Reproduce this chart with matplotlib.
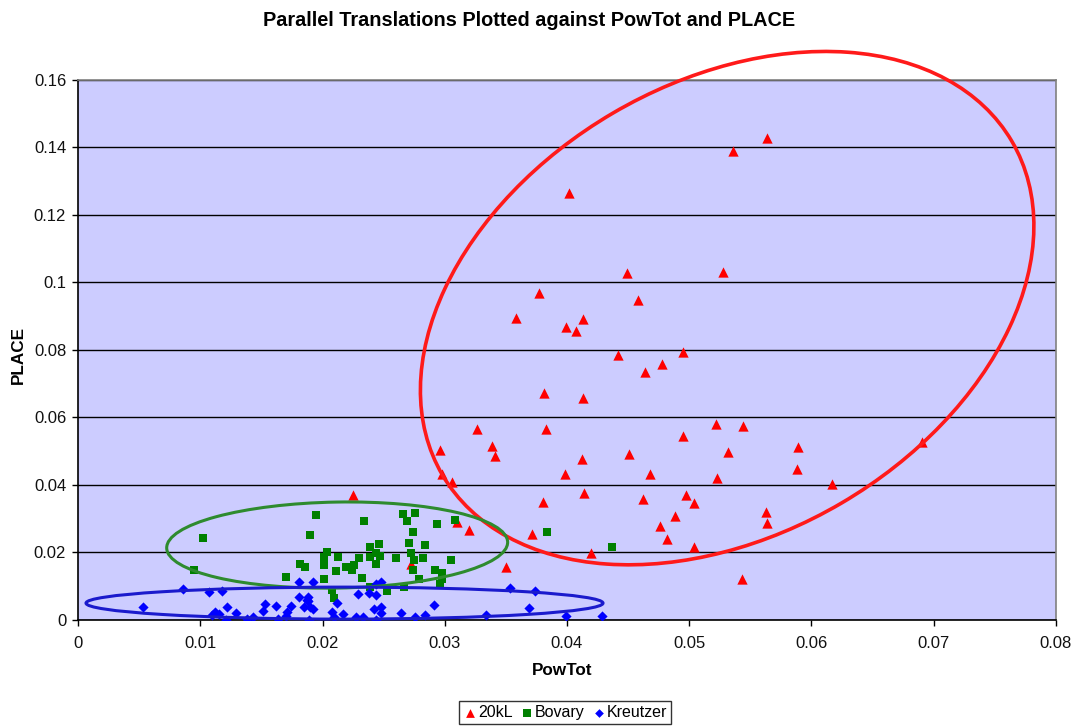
import matplotlib
matplotlib.use('Agg')
import matplotlib.pyplot as plt
import matplotlib.transforms as mtransforms
from matplotlib.patches import Ellipse

plt.rcParams['font.family'] = ['Liberation Sans', 'DejaVu Sans']

# 20kL (red triangles)
kl_x = [0.0564, 0.0536, 0.0402, 0.0449, 0.0528, 0.0458, 0.0377, 0.0358, 0.0413, 0.0399,
        0.0407, 0.0442, 0.0495, 0.0478, 0.0464, 0.0381, 0.0413, 0.0326, 0.0383, 0.0522,
        0.0544, 0.0296, 0.0339, 0.0341, 0.0412, 0.0451, 0.0495, 0.0532, 0.0589, 0.0588,
        0.0298, 0.0306, 0.0398, 0.0468, 0.0523, 0.0617, 0.0380, 0.0414, 0.0462, 0.0497,
        0.0504, 0.0563, 0.0564, 0.0488, 0.0476, 0.0482, 0.0504, 0.0310, 0.0320, 0.0371,
        0.0420, 0.0350, 0.0543, 0.0225, 0.0272, 0.0690]
kl_y = [0.1429, 0.1390, 0.1264, 0.1029, 0.1031, 0.0948, 0.0970, 0.0894, 0.0892, 0.0869,
        0.0855, 0.0785, 0.0793, 0.0758, 0.0736, 0.0672, 0.0657, 0.0566, 0.0566, 0.0581,
        0.0574, 0.0503, 0.0516, 0.0487, 0.0477, 0.0491, 0.0545, 0.0498, 0.0513, 0.0448,
        0.0433, 0.0408, 0.0433, 0.0433, 0.0420, 0.0402, 0.0351, 0.0375, 0.0358, 0.0370,
        0.0348, 0.0319, 0.0287, 0.0309, 0.0279, 0.0239, 0.0217, 0.0291, 0.0268, 0.0255,
        0.0198, 0.0157, 0.0121, 0.0370, 0.0165, 0.0527]

# Bovary (green squares)
bov_x = [0.0102, 0.0095, 0.0195, 0.0190, 0.0204, 0.0201, 0.0182, 0.0186, 0.0201, 0.0170,
         0.0201, 0.0234, 0.0266, 0.0276, 0.0269, 0.0294, 0.0308, 0.0384, 0.0274, 0.0271,
         0.0284, 0.0239, 0.0246, 0.0437, 0.0213, 0.0230, 0.0239, 0.0244, 0.0247, 0.0260,
         0.0272, 0.0275, 0.0282, 0.0305, 0.0211, 0.0219, 0.0224, 0.0226, 0.0244, 0.0274,
         0.0292, 0.0298, 0.0232, 0.0279, 0.0298, 0.0296, 0.0208, 0.0239, 0.0253, 0.0267,
         0.0209]
bov_y = [0.0244, 0.0149, 0.0311, 0.0252, 0.0202, 0.0188, 0.0167, 0.0156, 0.0163, 0.0128,
         0.0121, 0.0292, 0.0313, 0.0318, 0.0292, 0.0285, 0.0296, 0.0260, 0.0260, 0.0228,
         0.0221, 0.0217, 0.0224, 0.0217, 0.0188, 0.0185, 0.0187, 0.0198, 0.0190, 0.0185,
         0.0198, 0.0178, 0.0185, 0.0178, 0.0146, 0.0156, 0.0148, 0.0164, 0.0166, 0.0147,
         0.0148, 0.0138, 0.0124, 0.0121, 0.0121, 0.0108, 0.0089, 0.0099, 0.0085, 0.0099,
         0.0064]

# Kreutzer (blue diamonds)
kr_x = [0.0053, 0.0086, 0.0107, 0.0118, 0.0112, 0.0110, 0.0115, 0.0122, 0.0129, 0.0121,
        0.0138, 0.0143, 0.0151, 0.0153, 0.0162, 0.0164, 0.0170, 0.0171, 0.0174, 0.0181,
        0.0181, 0.0192, 0.0187, 0.0188, 0.0185, 0.0190, 0.0192, 0.0189, 0.0188, 0.0212,
        0.0208, 0.0217, 0.0227, 0.0233, 0.0209, 0.0229, 0.0238, 0.0244, 0.0244, 0.0248,
        0.0242, 0.0248, 0.0248, 0.0244, 0.0264, 0.0276, 0.0284, 0.0291, 0.0334, 0.0353,
        0.0374, 0.0369, 0.0399, 0.0429]
kr_y = [0.0039, 0.0092, 0.0082, 0.0086, 0.0024, 0.0015, 0.0018, 0.0039, 0.0022, 0.0000,
        0.0002, 0.0009, 0.0028, 0.0047, 0.0042, 0.0002, 0.0012, 0.0025, 0.0042, 0.0069,
        0.0112, 0.0112, 0.0059, 0.0057, 0.0039, 0.0039, 0.0032, 0.0000, 0.0067, 0.0049,
        0.0025, 0.0018, 0.0009, 0.0010, 0.0010, 0.0076, 0.0079, 0.0074, 0.0107, 0.0113,
        0.0032, 0.0038, 0.0020, 0.0000, 0.0022, 0.0008, 0.0015, 0.0044, 0.0015, 0.0094,
        0.0087, 0.0036, 0.0012, 0.0012]

x_ticks = [0, 0.01, 0.02, 0.03, 0.04, 0.05, 0.06, 0.07, 0.08]
x_labels = ['0', '0.01', '0.02', '0.03', '0.04', '0.05', '0.06', '0.07', '0.08']
y_ticks = [0, 0.02, 0.04, 0.06, 0.08, 0.1, 0.12, 0.14, 0.16]
y_labels = ['0', '0.02', '0.04', '0.06', '0.08', '0.1', '0.12', '0.14', '0.16']

# hand-drawn ellipses: centre in data units, axes in inches, angle in degrees
circles = [
    ((0.0531, 0.0924), 6.60, 4.52, 30.4, '#ff1a1a', 2.6),
    ((0.0212, 0.0222), 3.41, 0.86, 1.0, '#2e8b2e', 2.2),
    ((0.0218, 0.0050), 5.17, 0.32, 0.0, '#1a1acc', 2.2),
]

fig = plt.figure(figsize=(10.76, 7.27), dpi=100)
ax = fig.add_axes([0.0725, 0.1472, 0.9089, 0.7428])
ax.set_facecolor('#ccccff')

ax.scatter(kl_x, kl_y, marker='^', s=55, color='#ff0000', linewidths=0, zorder=3, label='20kL')
ax.scatter(bov_x, bov_y, marker='s', s=36, color='#008000', linewidths=0, zorder=3, label='Bovary')
ax.scatter(kr_x, kr_y, marker='D', s=27, color='#0000ff', linewidths=0, zorder=3, label='Kreutzer')

ax.set_xlim(0, 0.08)
ax.set_ylim(0, 0.16)
ax.set_xticks(x_ticks)
ax.set_xticklabels(x_labels)
ax.set_yticks(y_ticks)
ax.set_yticklabels(y_labels)
ax.tick_params(axis='both', direction='out', length=4.5, width=1, color='black',
               labelsize=12, labelcolor='#111111')
ax.tick_params(axis='x', pad=7)
ax.tick_params(axis='y', pad=4)
ax.yaxis.grid(True, color='black', linewidth=1)
ax.set_axisbelow(True)
for side in ['left', 'bottom']:
    ax.spines[side].set_color('black')
    ax.spines[side].set_linewidth(1.2)
for side in ['top', 'right']:
    ax.spines[side].set_color('#808080')
    ax.spines[side].set_linewidth(1.2)

for (cx, cy), w, h, ang, col, lw in circles:
    tr = fig.dpi_scale_trans + mtransforms.ScaledTranslation(cx, cy, ax.transData)
    e = Ellipse((0, 0), w, h, angle=ang, transform=tr, fill=False,
                edgecolor=col, linewidth=lw, zorder=4, clip_on=False)
    fig.add_artist(e)

fig.text(0.492, 0.972, 'Parallel Translations Plotted against PowTot and PLACE',
         ha='center', va='center', fontsize=14.3, fontweight='bold')
fig.text(0.522, 0.078, 'PowTot', ha='center', va='center', fontsize=12.3, fontweight='bold')
fig.text(0.017, 0.512, 'PLACE', ha='center', va='center', rotation=90,
         fontsize=12.3, fontweight='bold')

leg = fig.legend(loc='center', bbox_to_anchor=(0.525, 0.02), ncol=3, frameon=True,
                 fancybox=False, edgecolor='black', fontsize=11.5, handletextpad=0.05,
                 columnspacing=0.45, borderpad=0.25, handlelength=0.9, markerscale=0.85)
leg.get_frame().set_linewidth(1)

fig.savefig('out.png', dpi=100)
